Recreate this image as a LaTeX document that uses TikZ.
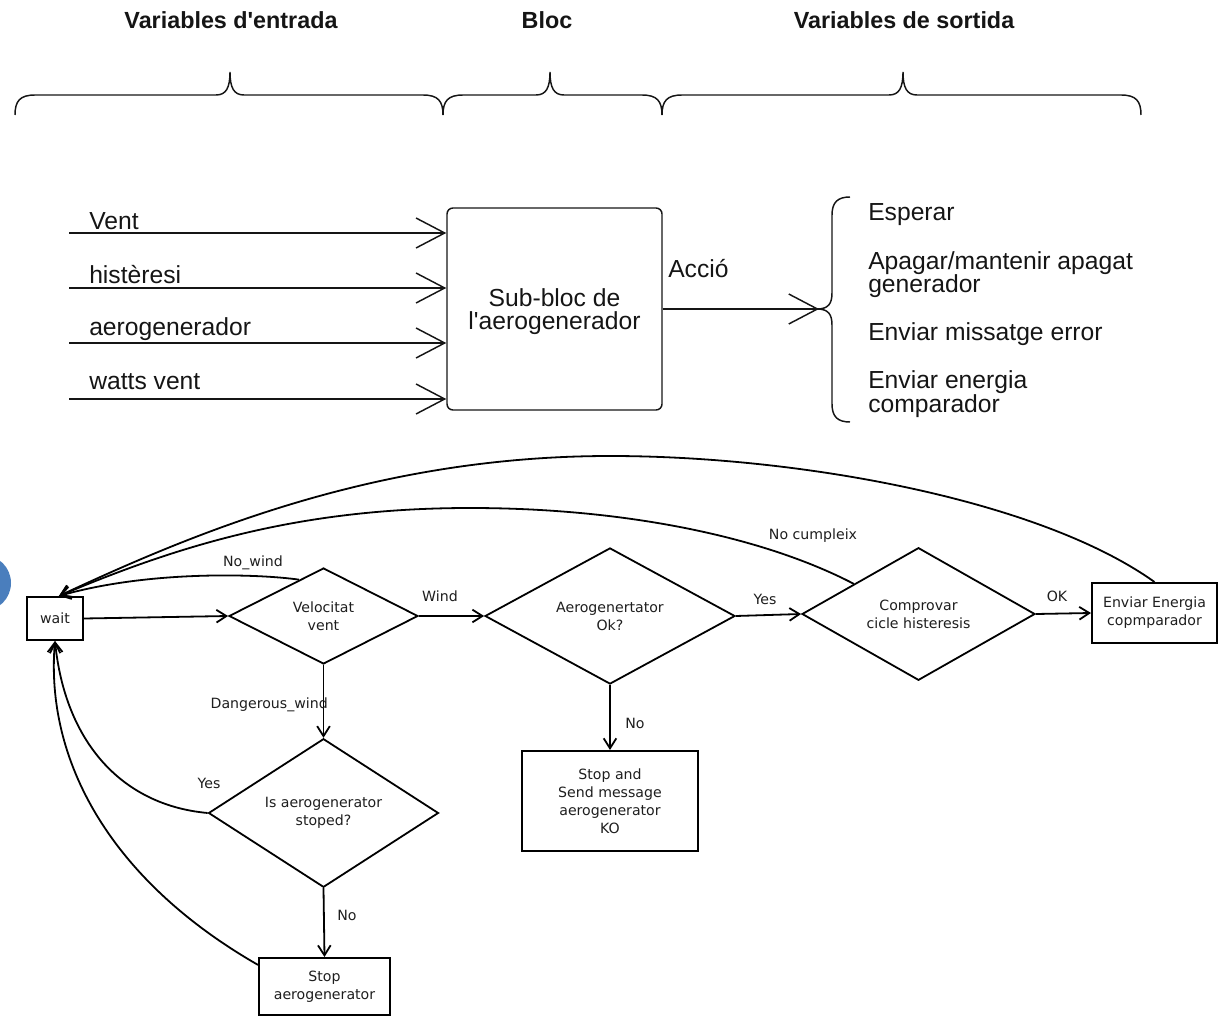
\documentclass[tikz,border=0pt]{standalone}
\usepackage{fontspec}
\setmainfont{Liberation Sans}
\newfontfamily\flowfont{DejaVu Sans}
\usetikzlibrary{arrows.meta,shapes.geometric}

\definecolor{ink}{HTML}{151515}
\definecolor{flowink}{HTML}{1E1E1E}
\definecolor{dotblue}{HTML}{4A7EBD}

% horizontal curly brace opening downwards: #1 left end, #2 tip, #3 right end
\newcommand{\hbrace}[3]{%
  \draw[bracestyle] (#1,115) .. controls (#1,101) and (#1+5,95) .. (#1+20,95)
    -- (#2-14,95) .. controls (#2-4,95) and (#2,88) .. (#2,72)
    .. controls (#2,88) and (#2+4,95) .. (#2+14,95)
    -- (#3-20,95) .. controls (#3-5,95) and (#3,101) .. (#3,115);}

\begin{document}
\begin{tikzpicture}[x=0.75pt,y=-0.75pt,
  title/.style={font=\bfseries\fontsize{17.5}{20}\selectfont, text=ink, inner sep=0pt},
  bigtext/.style={font=\fontsize{18.5}{17.3}\selectfont, text=ink, inner sep=0pt, anchor=base west, align=left},
  bracestyle/.style={line width=1.1pt, draw=ink},
  inarrow/.style={line width=1.1pt, draw=ink, -{Straight Barb[length=21.5pt,width=22.5pt,line width=1.1pt]}},
  blockbox/.style={draw=ink, line width=1.1pt, rounded corners=4.5pt, inner sep=0pt},
  flowtxt/.style={font={\flowfont\fontsize{10.6}{13.5}\selectfont}, text=flowink},
  dia/.style={diamond, draw=black, line width=1.35pt, inner sep=0pt, align=center, flowtxt},
  fbox/.style={rectangle, draw=black, line width=1.5pt, inner sep=0pt, align=center, flowtxt},
  lab/.style={flowtxt, inner sep=0pt},
  flow/.style={line width=1.35pt, draw=black, -{Straight Barb[length=7.5pt,width=9.5pt,line width=1.35pt]}}
]
\useasboundingbox (0,0) rectangle (1218,1016);

% partial blue disc at the left edge
\begin{scope}
  \clip (0,0) rectangle (1218,1016);
  \fill[dotblue] (-17,583) circle[radius=28];
\end{scope}

% ---------- headings and braces ----------
\node[title] (hin)  at (231,20) {Variables d\textquotesingle entrada};
\node[title] (hblk) at (547,20) {Bloc};
\node[title] (hout) at (904,20) {Variables de sortida};

\hbrace{15}{230}{443}
\hbrace{443}{550}{662}
\hbrace{662}{903}{1141}

% ---------- block with inputs and output ----------
\node[blockbox, minimum width=161.25pt, minimum height=151.5pt] (block) at (554.5,309) {};
\node[align=center, font=\fontsize{18.5}{17.3}\selectfont, text=ink, inner sep=0pt] (blocktxt)
  at (554.5,312) {Sub-bloc de\\l\textquotesingle aerogenerador};

\coordinate (i1) at (69,233);
\coordinate (i2) at (69,288);
\coordinate (i3) at (69,343);
\coordinate (i4) at (69,399);
\draw[inarrow] (i1) -- (i1 -| block.west);
\draw[inarrow] (i2) -- (i2 -| block.west);
\draw[inarrow] (i3) -- (i3 -| block.west);
\draw[inarrow] (i4) -- (i4 -| block.west);

\node[bigtext] (tvent) at (89,230) {Vent};
\node[bigtext] (thist) at (89,284) {histèresi};
\node[bigtext] (taero) at (89,336) {aerogenerador};
\node[bigtext] (twatt) at (89,389) {watts vent};

\coordinate (acc) at (819,309);
\draw[inarrow] (block) -- (acc);
\node[bigtext] (tacc) at (668,278) {Acció};

% output brace
\draw[bracestyle] (850,197) .. controls (838,197) and (832,202) .. (832,215)
  -- (832,293) .. controls (832,304) and (828,309) .. (817,309)
  .. controls (828,309) and (832,314) .. (832,325)
  -- (832,404) .. controls (832,417) and (838,422) .. (850,422);

% multi-line nodes sit on the baseline of their last line
\node[bigtext] (o1) at (868,221) {Esperar};
\node[bigtext] (o2) at (868,293) {Apagar/mantenir apagat\\generador};
\node[bigtext] (o3) at (868,341) {Enviar missatge error};
\node[bigtext] (o4) at (868,412) {Enviar energia\\comparador};

% ---------- flowchart ----------
\node[fbox, minimum width=42pt, minimum height=32.25pt] (wait) at (55,618.5) {wait};
\node[dia, minimum width=141.75pt, minimum height=72pt] (vel) at (323.5,616) {Velocitat\\vent};
\node[dia, minimum width=187.5pt, minimum height=84pt] (aero) at (610,616) {Aerogenertator\\Ok?};
\node[dia, minimum width=174.75pt, minimum height=87pt] (comp) at (918.5,614) {Comprovar\\cicle histeresis};
\node[fbox, minimum width=93.75pt, minimum height=45pt] (enviar) at (1154.5,613) {Enviar Energia\\copmparador};
\node[dia, minimum width=172.5pt, minimum height=103.5pt] (isstop) at (323.5,813) {Is aerogenerator\\stoped?};
\node[fbox, minimum width=98.25pt, minimum height=42.75pt] (stopgen) at (324.5,986.5) {Stop\\aerogenerator};
\node[fbox, minimum width=132pt, minimum height=75pt] (stopsend) at (610,801) {Stop and\\Send message\\aerogenerator\\KO};

% straight connectors
\draw[flow] (wait.east) -- (vel.west);
\draw[flow] (vel.east) -- (aero.west);
\draw[flow] (aero.east) -- (comp.west);
\draw[flow] (comp.east) -- (enviar.west);
\draw[flow] (vel.south) -- (isstop.north);
\draw[flow] (aero.south) -- (stopsend.north);
\draw[flow] (isstop.south) -- (stopgen.north);

% curved returns to wait
\draw[flow] (enviar.north) .. controls (1040,500) and (800,456) .. (610,456)
  .. controls (380,456) and (200,530) .. (wait.80);
\draw[flow] (comp.155) .. controls (760,535) and (620,508) .. (470,508)
  .. controls (300,508) and (180,545) .. (wait.80);
\draw[flow] (vel.124) .. controls (260,574) and (150,570) .. (wait.80);
\draw[flow] (isstop.west) .. controls (120,805) and (65,740) .. (wait.south);
\draw[flow] (stopgen.162) .. controls (110,880) and (45,760) .. (wait.south);

% connector labels
\node[lab] (lnowind) at (253,563) {No\_wind};
\node[lab] (lwind)   at (440,596) {Wind};
\node[lab] (lyes1)   at (765,599) {Yes};
\node[lab] (lok)     at (1057,596) {OK};
\node[lab] (lnocump) at (813,536) {No cumpleix};
\node[lab, anchor=east] (ldanger) at (328,705) {Dangerous\_wind};
\node[lab] (lyes2)   at (209,783) {Yes};
\node[lab] (lno1)    at (347,915) {No};
\node[lab] (lno2)    at (635,723) {No};
\end{tikzpicture}
\end{document}
